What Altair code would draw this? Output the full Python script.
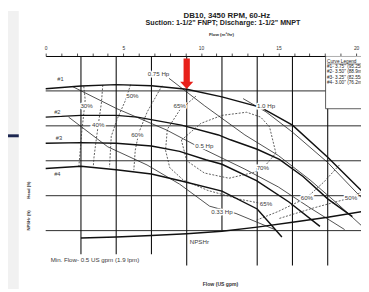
import altair as alt
import pandas as pd

# ---------------- data ----------------
flow_grid = [10, 20, 30, 40, 50, 60, 70, 80]
flow_grid_lo = [3.2, 3.2, 3.2, 0, 10, 0, 0, 0]
head_grid = [10, 20, 30, 40, 50]
flow_ticks = list(range(0, 90, 2))
head_ticks = list(range(0, 61, 2))
m3_ticks = list(range(0, 21))

c1_q = [0, 10, 20, 30, 40, 50, 61, 70, 80, 90]
c1_h = [50.6, 51.4, 51.8, 51.5, 50.5, 48.3, 45.3, 40.2, 31.0, 21.0]
c2_q = [0, 10, 20, 26, 38.5, 49, 52.4, 60, 66.3, 73, 80, 87]
c2_h = [42.5, 43.0, 43.0, 42.5, 40.2, 37.4, 36.0, 33.3, 30.4, 25.5, 19.1, 14.0]
c3_q = [0, 10, 20, 30, 38, 45.4, 50, 59.8, 69, 77.8]
c3_h = [35.0, 35.2, 35.0, 34.2, 32.7, 30.3, 29.0, 24.3, 18.2, 11.2]
c4_q = [0, 10, 20, 30, 38.5, 50, 60, 67]
c4_h = [27.8, 28.4, 27.4, 26.2, 24.2, 21.3, 16.2, 8.2]
npsh_q = [10, 20, 30, 40, 50, 60, 70, 80, 90]
npsh_h = [7.9, 8.2, 8.6, 9.1, 9.8, 11.0, 12.4, 13.8, 15.5]

hp033_q = [6.5, 17.6, 28.75, 38, 46.5, 54, 65]
hp033_h = [42.5, 34.0, 28.8, 23.3, 17.0, 14.9, 10.3]
hp050_q = [7.5, 20, 34.3, 42.2, 56.5, 66, 75, 84.8]
hp050_h = [51.3, 45.0, 38.8, 34.6, 27.6, 22.5, 16.5, 10.3]
hp075_q = [35, 45, 56.5, 66, 75, 83, 89.5]
hp075_h = [53.6, 45.8, 37.4, 31.5, 24.5, 17.5, 11.5]
hp100_q = [56, 62.5, 70, 80, 89.5]
hp100_h = [47.8, 44.0, 38.2, 29.5, 19.5]

e30_q = [10.8, 11.2, 10.8, 10.2, 9.8, 9.4]
e30_h = [51.3, 47.5, 43.5, 38.0, 33.0, 28.3]
e40_q = [16.2, 15.8, 14.9, 14.2, 13.7, 13.5]
e40_h = [51.7, 46.5, 40.2, 35.0, 31.0, 28.3]
e50_q = [24.1, 22.5, 20.3, 18.6, 18.1]
e50_h = [51.8, 47.0, 42.0, 37.0, 28.2]
e60_q = [33, 28.8, 26.4, 25.4, 25.0]
e60_h = [51.5, 44.0, 38.0, 33.0, 27.3]
e65_q = [42.6, 38, 34.5, 34, 35.2, 39, 46, 55, 62.5]
e65_h = [48.5, 44.5, 39.0, 33.0, 28.0, 24.5, 21.5, 19.0, 17.5]
e70_q = [38.5, 44, 50, 57, 61, 63.5, 65.3, 61.6, 58.8, 52, 45, 40, 38.5]
e70_h = [35.9, 40.7, 43.0, 43.9, 42.5, 39.7, 32.2, 27.8, 26.6, 25.0, 26.5, 30.0, 35.9]
e60r_q = [59.8, 66, 74, 79, 83.5]
e60r_h = [13.0, 15.5, 19.4, 24.0, 29.0]
e50r_q = [66.3, 76, 86.6, 89.5]
e50r_h = [13.5, 16.5, 19.4, 21.0]

lbl_text = ["0.75 Hp", "1.0 Hp", "0.5 Hp", "0.33 Hp",
            "30%", "40%", "50%", "60%", "65%", "70%", "65%", "60%", "50%", "NPSHr"]
lbl_q = [32.0, 62.5, 45.0, 50.0,
         11.6, 14.9, 24.6, 26.0, 38.0, 61.6, 62.5, 74.1, 86.6, 43.6]
lbl_h = [54.7, 45.8, 34.1, 15.4,
         45.8, 40.2, 48.4, 37.4, 45.8, 27.8, 17.5, 19.4, 19.4, 6.8]

curve_text = ["#1", "#2", "#3", "#4"]
curve_q = [4.2, 3.3, 3.75, 3.3]
curve_h = [53.3, 43.9, 36.4, 26.2]

minflow_text = ["Min. Flow- 0.5 US gpm (1.9 lpm)"]
minflow_q = [1.4]
minflow_h = [1.6]

legend_lines = ["Curve Legend", "#1- 3.75\" (95.25mm)", "#2- 3.50\" (88.9mm)",
                "#3- 3.25\" (82.55mm)", "#4- 3.00\" (76.2mm)"]
legend_h = [58.4, 56.8, 55.3, 53.7, 52.2]
legend_q = [79.8]
legend_uline_q = [79.8, 89.6]
legend_uline_h = [57.75]
legend_box_q = [79.4, 110]
legend_box_h = [44.9, 60]

arrow_q = [40]
arrow_h = [54.9]

title1 = "DB10, 3450 RPM, 60-Hz"
title2 = "Suction: 1-1/2\" FNPT; Discharge: 1-1/2\" MNPT"

# ---------------- build ----------------
W, H = 322, 214
QMAX = W / 3.6
GPM_TO_M3 = 0.227125
FONT = "Liberation Sans"
INK = "#3a3a3a"

xs = alt.Scale(domain=[0, QMAX], nice=False, zero=False)
ys = alt.Scale(domain=[0, 60], nice=False, zero=False)


def series(name, qs, hs):
    return pd.DataFrame({"q": qs, "h": hs, "s": name, "o": list(range(len(qs)))})


heads = pd.concat([series("#1", c1_q, c1_h), series("#2", c2_q, c2_h),
                   series("#3", c3_q, c3_h), series("#4", c4_q, c4_h),
                   series("npsh", npsh_q, npsh_h)])
hps = pd.concat([series("a", hp033_q, hp033_h), series("b", hp050_q, hp050_h),
                 series("c", hp075_q, hp075_h), series("d", hp100_q, hp100_h)])
effs = pd.concat([series("e30", e30_q, e30_h), series("e40", e40_q, e40_h),
                  series("e50", e50_q, e50_h), series("e60", e60_q, e60_h),
                  series("e65", e65_q, e65_h), series("e70", e70_q, e70_h),
                  series("e60r", e60r_q, e60r_h), series("e50r", e50r_q, e50r_h)])
labels = pd.DataFrame({"t": lbl_text, "q": lbl_q, "h": lbl_h})
clabels = pd.DataFrame({"t": curve_text, "q": curve_q, "h": curve_h})
minflow = pd.DataFrame({"t": minflow_text, "q": minflow_q, "h": minflow_h})
legend_df = pd.DataFrame({"t": legend_lines, "q": legend_q * len(legend_lines), "h": legend_h})
legend_box = pd.DataFrame({"q": [legend_box_q[0]], "q2": [legend_box_q[1]],
                           "h": [legend_box_h[0]], "h2": [legend_box_h[1]]})
uline = pd.DataFrame({"q": [legend_uline_q[0]], "q2": [legend_uline_q[1]], "h": legend_uline_h})
arrow_df = pd.DataFrame({"q": arrow_q, "h": arrow_h})
vgrid_df = pd.DataFrame({"q": flow_grid, "lo": flow_grid_lo, "hi": [60] * len(flow_grid)})

X = lambda: alt.X("q:Q", scale=xs, axis=None)
Y = lambda: alt.Y("h:Q", scale=ys, axis=None)

one = alt.Data(values=[{"a": 1}])

gray = alt.Chart(one).mark_rect(color="#f1f1f1").encode(
    x=alt.value(-38.5), x2=alt.value(-27.5), y=alt.value(-46), y2=alt.value(238))
navy = alt.Chart(one).mark_rect(color="#1c2650").encode(
    x=alt.value(-38.5), x2=alt.value(-27.5), y=alt.value(80), y2=alt.value(83))

vgrid = alt.Chart(vgrid_df).mark_rule(color="#111", strokeWidth=1.1).encode(
    x=alt.X("q:Q", scale=xs, axis=alt.Axis(
        values=flow_ticks, labelExpr="datum.value % 10 == 0 ? datum.label : ''",
        tickSize=3, labelFontSize=5, labelPadding=2, labelFont=FONT, labelColor="#333",
        domainColor="#000", tickColor="#000", tickWidth=0.7, title=None, grid=False,
        labelOverlap=False, labelFlush=False, orient="bottom")),
    y=alt.Y("lo:Q", scale=ys, axis=None), y2="hi:Q")
hgrid = alt.Chart(pd.DataFrame({"h": head_grid})).mark_rule(color="#111", strokeWidth=0.9).encode(
    y=alt.Y("h:Q", scale=ys, axis=alt.Axis(
        values=head_ticks, labelExpr="datum.value % 10 == 0 ? datum.label : ''",
        tickSize=3, labelFontSize=5, labelPadding=1.5, labelFont=FONT, labelColor="#333",
        domainColor="#000", tickColor="#000", tickWidth=0.7, title=None, grid=False,
        labelOverlap=False, labelFlush=False, orient="left")),
    x=alt.value(0), x2=alt.value(W))

box = alt.Chart(legend_box).mark_rect(fill="white", stroke="#333", strokeWidth=0.8, clip=True).encode(
    x=X(), x2="q2:Q", y=Y(), y2="h2:Q")
ul = alt.Chart(uline).mark_rule(color="#333", strokeWidth=0.5, clip=True).encode(
    x=X(), x2="q2:Q", y=Y())

head_lines = alt.Chart(heads).mark_line(color="#111", strokeWidth=1.5).encode(
    x=X(), y=Y(), detail="s:N", order="o:Q")
hp_lines = alt.Chart(hps).mark_line(color="#222", strokeWidth=0.8).encode(
    x=X(), y=Y(), detail="s:N", order="o:Q")
eff_lines = alt.Chart(effs).mark_line(color="#333", strokeWidth=0.8, strokeDash=[2, 1.5]).encode(
    x=X(), y=Y(), detail="s:N", order="o:Q")

halo = alt.Chart(labels).mark_text(font=FONT, fontSize=6.3, stroke="white", strokeWidth=3,
                                   fill="white").encode(x=X(), y=Y(), text="t:N")
lbls = alt.Chart(labels).mark_text(font=FONT, fontSize=6.3, color=INK).encode(
    x=X(), y=Y(), text="t:N")
chalo = alt.Chart(clabels).mark_text(font=FONT, fontSize=5.8, stroke="white", strokeWidth=3,
                                     fill="white").encode(x=X(), y=Y(), text="t:N")
clbls = alt.Chart(clabels).mark_text(font=FONT, fontSize=5.8, color=INK).encode(
    x=X(), y=Y(), text="t:N")
mf = alt.Chart(minflow).mark_text(font=FONT, fontSize=6.3, align="left", color=INK).encode(
    x=X(), y=Y(), text="t:N")

arrow = alt.Chart(arrow_df).mark_point(
    shape="M-0.2,-0.97L0.2,-0.97L0.2,0.51L0.42,0.51L0,0.97L-0.42,0.51L-0.2,0.51Z",
    size=1024, filled=True, color="#e8211b", opacity=1, strokeWidth=0).encode(x=X(), y=Y())

leg_text = alt.Chart(legend_df).mark_text(font=FONT, fontSize=4.8, align="left", color="#222",
                                          clip=True).encode(x=X(), y=Y(), text="t:N")

titles = alt.Chart(one).mark_text(font=FONT, fontSize=8, fontWeight="bold", color="#222").encode(
    x=alt.value(185), y=alt.value(-40.8), text=alt.value(title1))
titles2 = alt.Chart(one).mark_text(font=FONT, fontSize=7.3, fontWeight="bold", color="#222").encode(
    x=alt.value(181), y=alt.value(-34), text=alt.value(title2))
ttop = alt.Chart(one).mark_text(font=FONT, fontSize=4.5, fontWeight="bold", color="#333").encode(
    x=alt.value(179.5), y=alt.value(-21), text=alt.value("Flow (m\u00b3/hr)"))
tbot = alt.Chart(one).mark_text(font=FONT, fontSize=5.2, fontWeight="bold", color="#333").encode(
    x=alt.value(178.5), y=alt.value(233), text=alt.value("Flow (US gpm)"))
thead = alt.Chart(one).mark_text(font=FONT, fontSize=4.3, fontWeight="bold", color="#333", angle=270).encode(
    x=alt.value(-17.5), y=alt.value(137), text=alt.value("Head (ft)"))
tnpsh = alt.Chart(one).mark_text(font=FONT, fontSize=4.3, fontWeight="bold", color="#333", angle=270).encode(
    x=alt.value(-17.5), y=alt.value(168), text=alt.value("NPSHr (ft)"))

main = alt.layer(gray, navy, vgrid, hgrid, box, ul, eff_lines, hp_lines, head_lines,
                 halo, lbls, chalo, clbls, mf, arrow, leg_text,
                 titles, titles2, ttop, tbot, thead, tnpsh)

top = alt.Chart(pd.DataFrame({"m": [0, QMAX * GPM_TO_M3]})).mark_point(opacity=0).encode(
    x=alt.X("m:Q", scale=alt.Scale(domain=[0, QMAX * GPM_TO_M3], nice=False, zero=False),
            axis=alt.Axis(values=m3_ticks, labelExpr="datum.value % 5 == 0 ? datum.label : ''",
                          tickSize=3, labelFontSize=5, labelPadding=2.5, labelFont=FONT,
                          labelColor="#333", domainColor="#000", tickColor="#000", tickWidth=0.7,
                          title=None, grid=False, labelOverlap=False, labelFlush=False,
                          orient="top")))

chart = alt.layer(main, top).resolve_scale(x="independent").properties(
    width=W, height=H,
    autosize=alt.AutoSizeParams(type="none"),
    padding={"left": 38.5, "top": 46, "right": 0, "bottom": 24},
    background="white",
).configure_view(stroke=None)

chart.save("out.html", embed_options={"renderer": "svg", "actions": False})
